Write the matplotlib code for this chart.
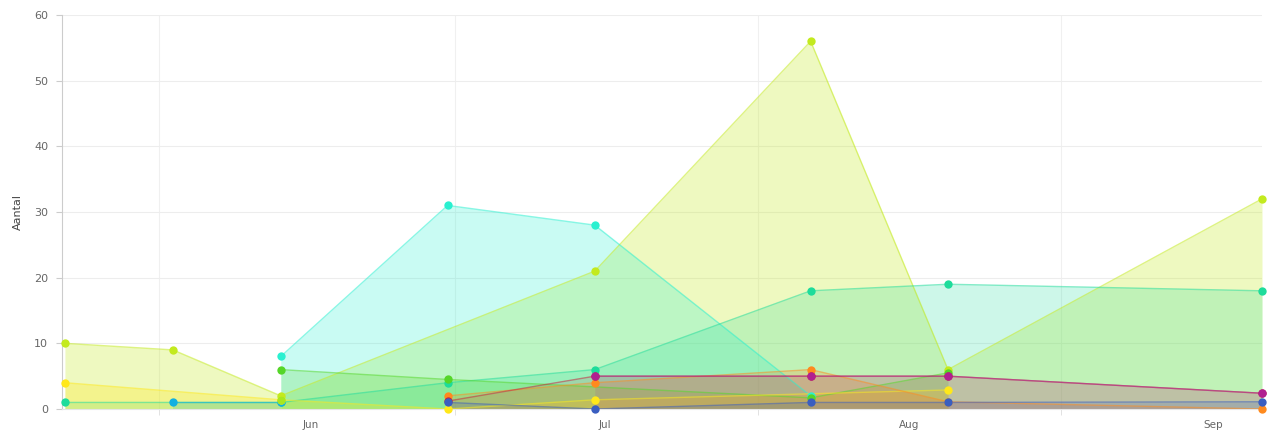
#!/usr/bin/env python3
"""Overlapping area chart of counts (Aantal) per date, May - Sep."""

from datetime import datetime

import matplotlib.dates as mdates
import matplotlib.pyplot as plt
import numpy as np

dates = [datetime(2023, 5, 7), datetime(2023, 5, 18), datetime(2023, 5, 29), datetime(2023, 6, 15),
         datetime(2023, 6, 30), datetime(2023, 7, 22), datetime(2023, 8, 5), datetime(2023, 9, 6)]

yellowgreen = [10, 9, 2, None, 21, 56, 6, 32]
aqua = [None, None, 8, 31, 28, 2, None, None]
teal = [1, None, 1, 4, 6, 18, 19, 18]
green = [None, None, 6, 4.5, None, 1.7, 5.5, None]
sky = [None, 1, 1, None, None, None, None, None]
yellow = [4, None, 1.4, 0, 1.4, None, 2.9, None]
orange = [None, None, None, 2, 4, 6, 1.1, 0]
crimson = [None, None, None, 1.2, 5, 5, 5, 2.4]
magenta = [None, None, None, None, 5, 5, 5, 2.4]
blue = [None, None, None, 1, 0, 1, 1, 1.1]
lime = [None, None, 1.4, None, None, None, None, None]

series = [
    (yellowgreen, "#c3ea1e", 0.28),
    (aqua, "#2af0d0", 0.25),
    (teal, "#1edc9b", 0.22),
    (green, "#55d628", 0.22),
    (sky, "#12b0e0", 0.25),
    (yellow, "#ffe81a", 0.3),
    (orange, "#ff8a1e", 0.22),
    (crimson, "#c8203c", 0.12),
    (magenta, "#b02090", 0.12),
    (blue, "#3a5ec0", 0.2),
    (lime, "#a8e81e", 0.3),
]

month_labels = ["Jun", "Jul", "Aug", "Sep"]
month_starts = [datetime(2023, 6, 1), datetime(2023, 7, 1), datetime(2023, 8, 1), datetime(2023, 9, 1)]
grid_dates = [datetime(2023, 5, 16, 14), datetime(2023, 6, 15, 17), datetime(2023, 7, 16, 14),
              datetime(2023, 8, 16, 12)]


def main() -> None:
    fig = plt.figure(figsize=(12.74, 4.38), dpi=100)
    ax = fig.add_axes([62 / 1274, 29 / 438, 1200 / 1274, 394 / 438])

    x_all = mdates.date2num(dates)
    for values, color, alpha in series:
        pts = [(x, v) for x, v in zip(x_all, values) if v is not None]
        xs = np.array([p[0] for p in pts])
        ys = np.array([p[1] for p in pts])
        ax.fill_between(xs, 0, ys, color=color, alpha=alpha, linewidth=0, zorder=2)
        ax.plot(xs, ys, color=color, alpha=0.55, linewidth=1, zorder=3)
    for values, color, _ in series:
        pts = [(x, v) for x, v in zip(x_all, values) if v is not None]
        ax.plot([p[0] for p in pts], [p[1] for p in pts], linestyle="none",
                marker="o", markersize=6, color=color, markeredgewidth=0, zorder=5,
                clip_on=False)

    ax.set_xlim(x_all[0] - 0.3, x_all[-1])
    ax.set_ylim(0, 60)
    ax.set_yticks(range(0, 61, 10))
    ax.tick_params(axis="y", colors="#cccccc", labelcolor="#666666", labelsize=8,
                   length=4, width=0.8, direction="out", pad=6)

    ax.set_xticks(mdates.date2num(month_starts))
    ax.set_xticklabels(month_labels)
    ax.tick_params(axis="x", which="major", length=0, labelsize=7.5,
                   labelcolor="#666666", pad=8)
    ax.set_xticks(mdates.date2num(grid_dates), minor=True)
    ax.tick_params(axis="x", which="minor", length=4, color="#dddddd")

    ax.grid(axis="y", color="#ededed", linewidth=0.8, zorder=0)
    ax.grid(axis="x", which="minor", color="#f0f0f0", linewidth=0.8, zorder=0)
    ax.set_axisbelow(True)

    for side in ("top", "right"):
        ax.spines[side].set_visible(False)
    ax.spines["left"].set_color("#cccccc")
    ax.spines["bottom"].set_color("#e6e6e6")

    ax.set_ylabel("Aantal", fontsize=8, color="#444444", labelpad=8)

    fig.savefig("out.png", dpi=100)


if __name__ == "__main__":
    main()
